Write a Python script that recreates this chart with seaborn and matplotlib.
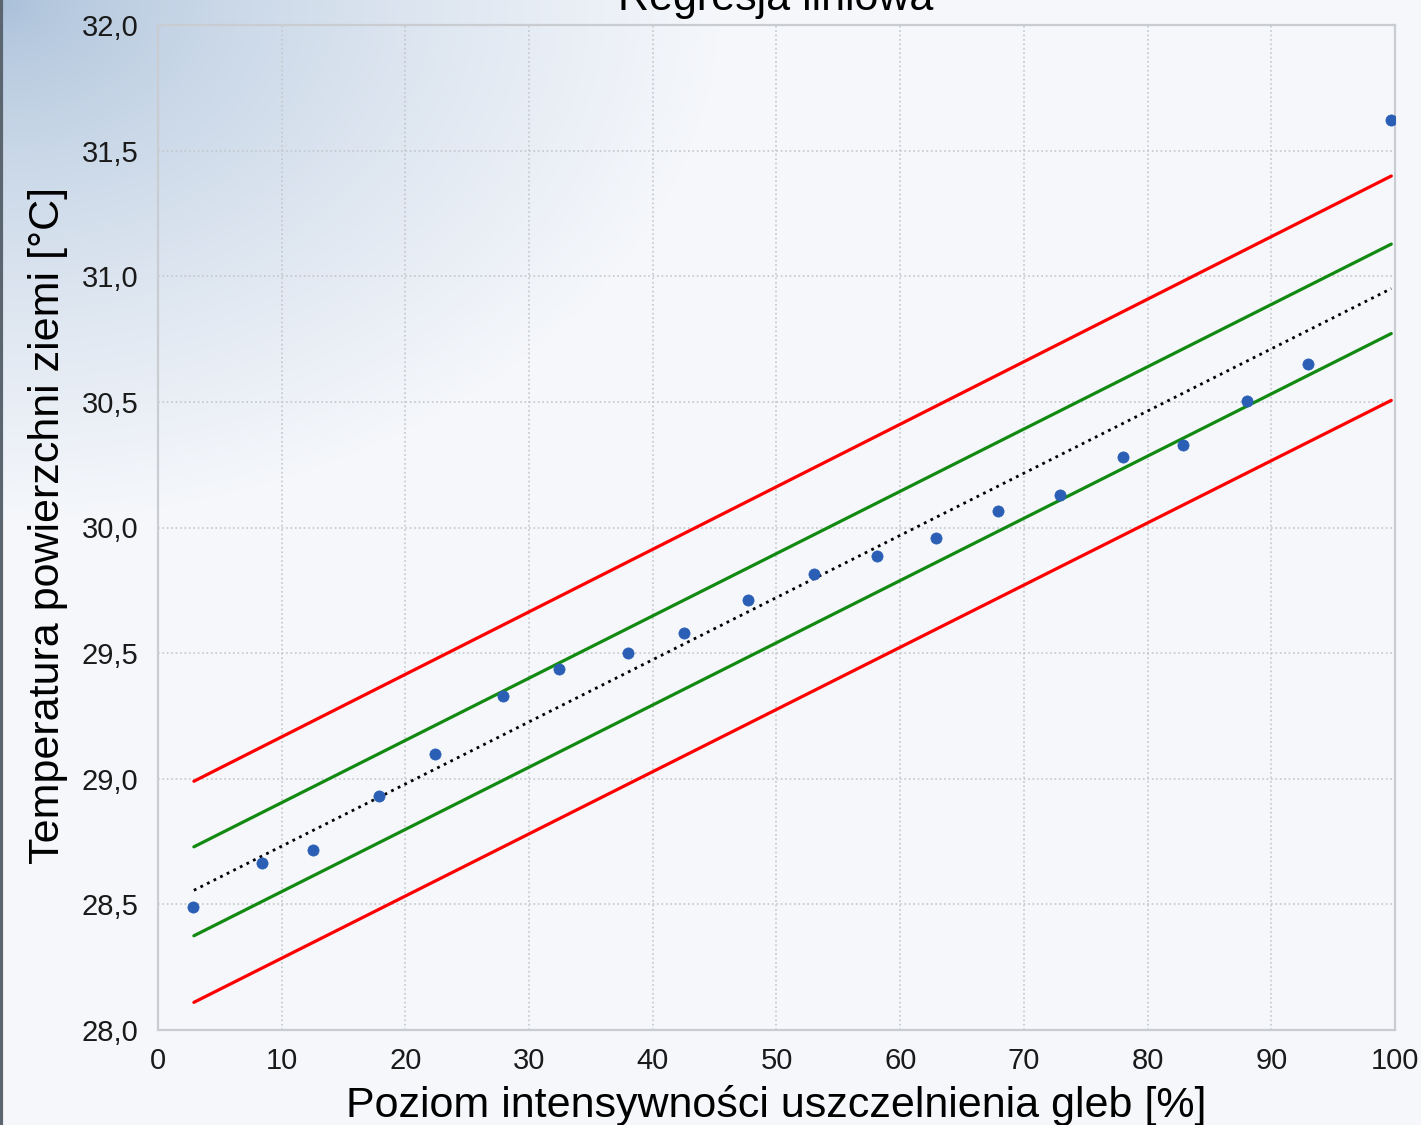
import numpy as np
import pandas as pd
import matplotlib
matplotlib.use("Agg")
import matplotlib.pyplot as plt
import seaborn as sns

# ---- data ----
soil_sealing = [2.8, 8.4, 12.5, 17.9, 22.4, 27.9, 32.4, 38.0, 42.5, 47.7,
                53.0, 58.1, 62.9, 67.9, 72.9, 78.0, 82.9, 88.0, 93.0, 99.7]
surface_temp = [28.488, 28.665, 28.715, 28.930, 29.100, 29.330, 29.436, 29.500, 29.580, 29.710,
                29.815, 29.886, 29.958, 30.066, 30.130, 30.280, 30.330, 30.502, 30.649, 31.620]

line_x = [2.9, 99.7]
reg_line = [28.556, 30.951]
conf_upper = [28.729, 31.128]
conf_lower = [28.375, 30.772]
pred_upper = [28.990, 31.399]
pred_lower = [28.110, 30.506]

x_ticks = [0, 10, 20, 30, 40, 50, 60, 70, 80, 90, 100]
y_ticks = [28.0, 28.5, 29.0, 29.5, 30.0, 30.5, 31.0, 31.5, 32.0]

title = "Regresja liniowa"
x_label = "Poziom intensywności uszczelnienia gleb [%]"
y_label = "Temperatura powierzchni ziemi [°C]"

points = pd.DataFrame({"x": soil_sealing, "y": surface_temp})
lines = pd.DataFrame({
    "x": line_x * 5,
    "y": reg_line + conf_upper + conf_lower + pred_upper + pred_lower,
    "kind": ["reg"] * 2 + ["cu"] * 2 + ["cl"] * 2 + ["pu"] * 2 + ["pl"] * 2,
})

sns.set_style("white")
plt.rcParams["font.family"] = ["Liberation Sans", "DejaVu Sans"]

W, H = 1421, 1125
fig = plt.figure(figsize=(W / 100, H / 100), dpi=100)

# background gradient (steel blue in the top-left corner fading to pale grey)
bg = fig.add_axes([0, 0, 1, 1], zorder=-10)
yy, xx = np.mgrid[0:H, 0:W]
t = np.clip(np.sqrt((xx / 720.0) ** 2 + (yy / 520.0) ** 2), 0, 1)
c0 = np.array([0.66, 0.75, 0.85])
c1 = np.array([0.961, 0.969, 0.984])
img = c0 + (c1 - c0) * t[..., None] ** 0.7
bg.imshow(img, aspect="auto", extent=[0, 1, 0, 1], origin="upper")
bg.axvline(0.001, color="#5b6570", lw=3)
bg.set_xlim(0, 1)
bg.set_ylim(0, 1)
bg.axis("off")

ax = fig.add_axes([158 / W, 1 - 1030 / H, (1395 - 158) / W, (1030 - 25) / H])
ax.set_facecolor("none")

for kind, color, ls, lw in [("pu", "#ff0000", "-", 2.3), ("pl", "#ff0000", "-", 2.3),
                            ("cu", "#128a12", "-", 2.3), ("cl", "#128a12", "-", 2.3),
                            ("reg", "black", ":", 2.0)]:
    sns.lineplot(data=lines[lines["kind"] == kind], x="x", y="y", ax=ax,
                 color=color, linestyle=ls, linewidth=lw)

sns.scatterplot(data=points, x="x", y="y", ax=ax, color="#2a5fb5", s=65,
                edgecolor="#2a5fb5", linewidth=0.5, zorder=5)

ax.set_xlim(0, 100)
ax.set_ylim(28, 32)
ax.set_xticks(x_ticks)
ax.set_yticks(y_ticks)
ax.set_xticklabels([str(v) for v in x_ticks])
ax.set_yticklabels([f"{v:.1f}".replace(".", ",") for v in y_ticks])
ax.tick_params(axis="both", labelsize=21, length=8, width=1, color="#c9ccd0",
               labelcolor="#1a1a1a", direction="out")
ax.tick_params(axis="y", pad=6)
ax.tick_params(axis="x", pad=4)
ax.grid(True, linestyle=":", color="#c3c7cc", linewidth=1.2)
for side in ax.spines.values():
    side.set_color("#c9cdd2")
    side.set_linewidth(1.6)

ax.set_xlabel("")
ax.set_ylabel("")
fig.text(776 / W, 1 - 1105 / H, x_label, ha="center", va="center", fontsize=31, color="black")
fig.text(48 / W, 1 - 525 / H, y_label, ha="center", va="center", rotation=90,
         fontsize=31, color="black")
fig.text(776 / W, 1 - 10 / H, title, ha="center", va="baseline", fontsize=31, color="black")

fig.savefig("out.png", dpi=100)
